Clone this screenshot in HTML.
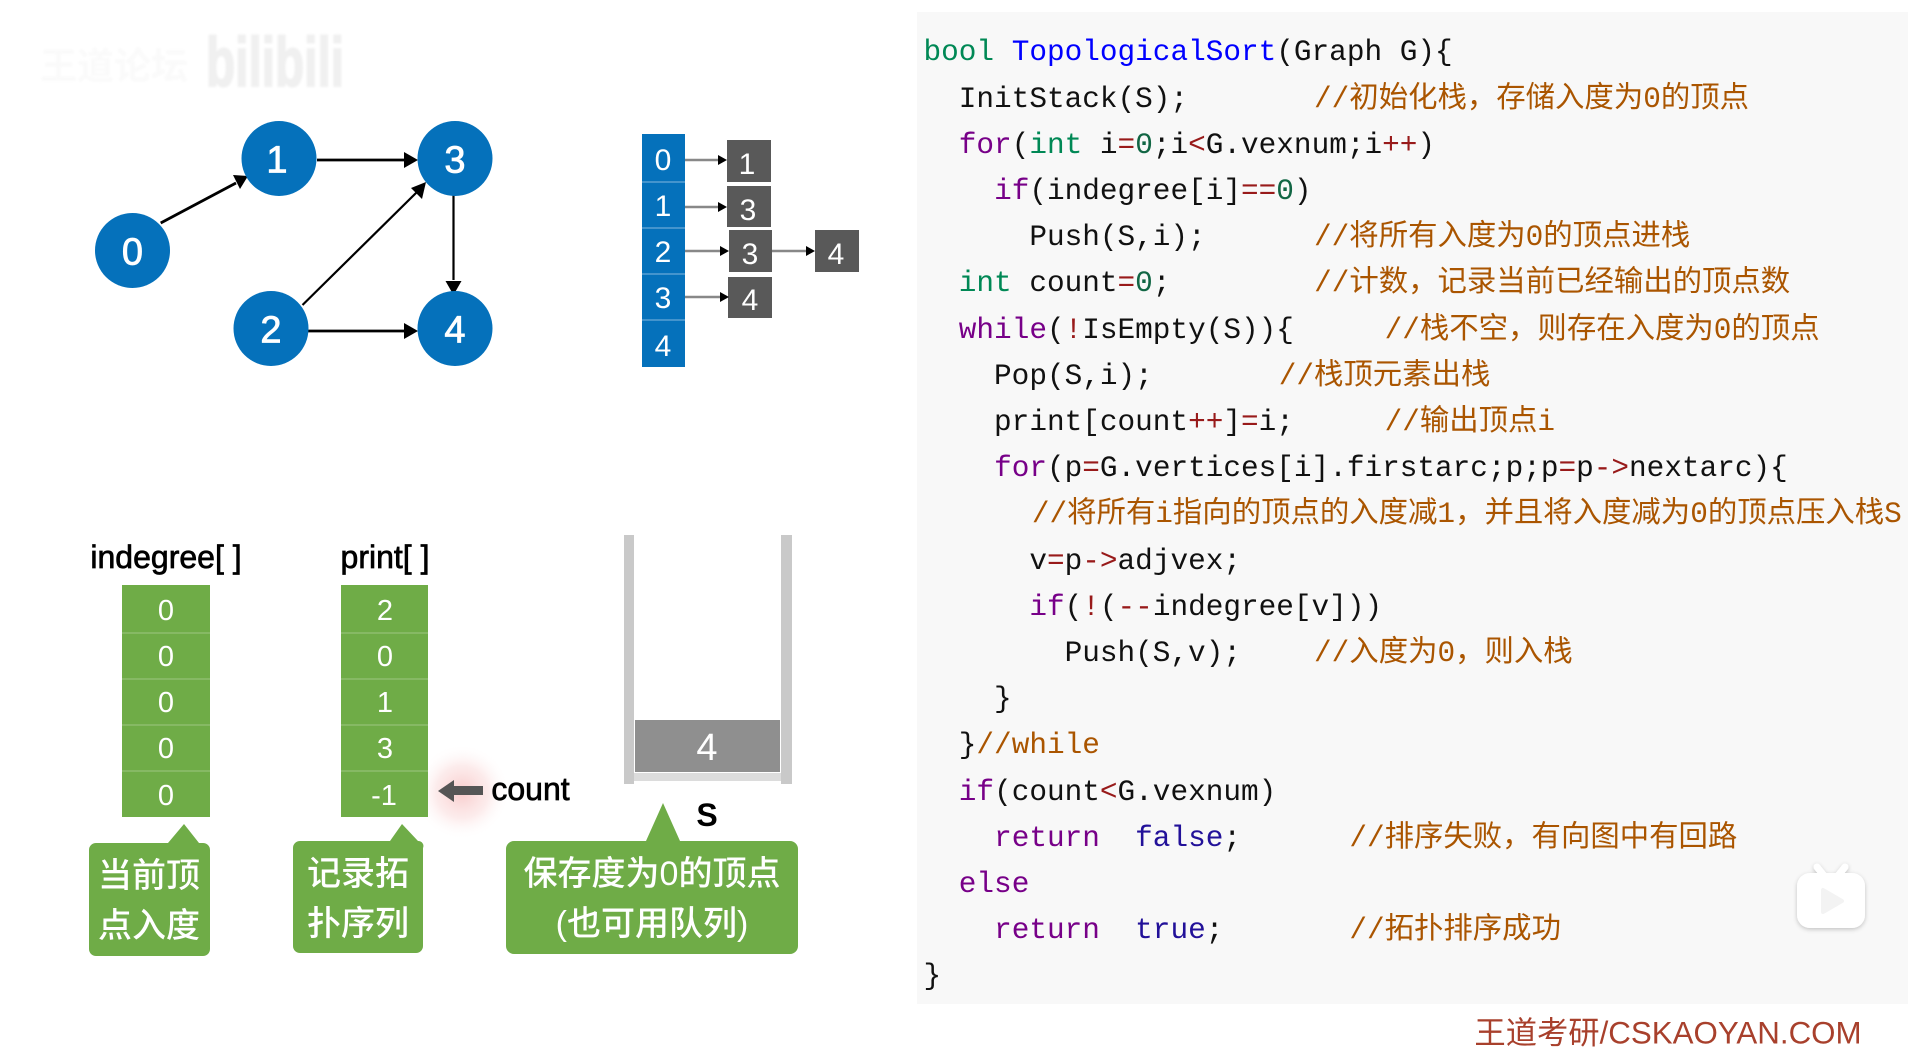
<!DOCTYPE html>
<html lang="zh">
<head>
<meta charset="utf-8">
<title>TopologicalSort</title>
<style>
html,body{margin:0;padding:0;background:#fff}
#page{position:relative;width:1908px;height:1064px;overflow:hidden;background:#fff}
#panel{position:absolute;left:917px;top:12px;width:991px;height:992px;background:#f8f8f8}
#code{position:absolute;left:923.5px;top:30.4px;margin:0;font:29.4px/46.2px "Liberation Mono","Noto Sans CJK SC",monospace;color:#111;white-space:pre}
.k{color:#708}.t{color:#085}.d{color:#00f}.n{color:#164}.o{color:#981a1a}.c{color:#a50}.a{color:#219}
.m{margin-left:2.5px}
svg{position:absolute;left:0;top:0}
svg text{font-family:"Liberation Sans","Noto Sans CJK SC",sans-serif;text-anchor:middle}
.w{fill:#fff}
.cj{font-family:"Liberation Sans","Noto Sans CJK SC",sans-serif;font-size:34px;fill:#fff;font-weight:500}
.lb{font-size:32px;fill:#000;stroke:#000;stroke-width:.7}
</style>
</head>
<body>
<div id="page">
<div id="panel"></div>
<pre id="code"><span class="t">bool</span> <span class="d">TopologicalSort</span>(Graph G){
  InitStack(S);       <span class="c m">//初始化栈，存储入度为0的顶点</span>
  <span class="k">for</span>(<span class="t">int</span> i<span class="o">=</span><span class="n">0</span>;i<span class="o">&lt;</span>G.vexnum;i<span class="o">++</span>)
    <span class="k">if</span>(indegree[i]<span class="o">==</span><span class="n">0</span>)
      Push(S,i);      <span class="c m">//将所有入度为0的顶点进栈</span>
  <span class="t">int</span> count<span class="o">=</span><span class="n">0</span>;        <span class="c m">//计数，记录当前已经输出的顶点数</span>
  <span class="k">while</span>(<span class="o">!</span>IsEmpty(S)){     <span class="c m">//栈不空，则存在入度为0的顶点</span>
    Pop(S,i);       <span class="c m">//栈顶元素出栈</span>
    print[count<span class="o">++</span>]<span class="o">=</span>i;     <span class="c m">//输出顶点i</span>
    <span class="k">for</span>(p<span class="o">=</span>G.vertices[i].firstarc;p;p<span class="o">=</span>p<span class="o">-&gt;</span>nextarc){
      <span class="c m">//将所有i指向的顶点的入度减1，并且将入度减为0的顶点压入栈S</span>
      v<span class="o">=</span>p<span class="o">-&gt;</span>adjvex;
      <span class="k">if</span>(<span class="o">!</span>(<span class="o">--</span>indegree[v]))
        Push(S,v);    <span class="c m">//入度为0，则入栈</span>
    }
  }<span class="c">//while</span>
  <span class="k">if</span>(count<span class="o">&lt;</span>G.vexnum)
    <span class="k">return</span>  <span class="a">false</span>;      <span class="c m">//排序失败，有向图中有回路</span>
  <span class="k">else</span>
    <span class="k">return</span>  <span class="a">true</span>;       <span class="c m">//拓扑排序成功</span>
}</pre>
<svg width="1908" height="1064" viewBox="0 0 1908 1064" xmlns="http://www.w3.org/2000/svg">
<defs>
<radialGradient id="glow"><stop offset="0" stop-color="#f4a9a9" stop-opacity=".6"/><stop offset=".55" stop-color="#f8c8c8" stop-opacity=".35"/><stop offset="1" stop-color="#fff" stop-opacity="0"/></radialGradient>
<filter id="soft"><feGaussianBlur stdDeviation="1"/></filter>
<filter id="sh" x="-20%" y="-20%" width="140%" height="140%"><feDropShadow dx="0" dy="1.5" stdDeviation="2" flood-color="#000" flood-opacity=".22"/></filter>
</defs>

<!-- faint watermark -->
<g filter="url(#soft)">
<text x="114" y="79" font-size="37" fill="#fafafa" style="font-weight:700">王道论坛</text>
<text x="275" y="86" font-size="70" fill="#f0f0f0" stroke="#f0f0f0" stroke-width="2" style="font-weight:700" textLength="138" lengthAdjust="spacingAndGlyphs">bilibili</text>
</g>

<!-- graph -->
<g stroke="#000" fill="none" stroke-width="2.8">
<line x1="160.7" y1="223" x2="236" y2="183"/>
<line x1="317" y1="160" x2="406" y2="160"/>
<line x1="307" y1="331" x2="406" y2="331"/>
<line x1="453.5" y1="195" x2="453.5" y2="280" stroke-width="2.2"/>
<line x1="302.5" y1="305" x2="417" y2="192" stroke-width="2.2"/>
</g>
<g fill="#000">
<polygon points="248,176 233,175 240,189"/>
<polygon points="418,160 404,152 404,168"/>
<polygon points="418,331 404,323 404,339"/>
<polygon points="453.5,295 445.5,281 461.5,281"/>
<polygon points="426,182 411,188 422,199"/>
</g>
<g fill="#0571bb">
<circle cx="279" cy="158.5" r="37.5"/>
<circle cx="455" cy="158.5" r="37.5"/>
<circle cx="132.5" cy="250.5" r="37.5"/>
<circle cx="271" cy="328.5" r="37.5"/>
<circle cx="455" cy="328.5" r="37.5"/>
</g>
<g class="w" font-size="38" stroke="#fff" stroke-width=".8">
<text x="277" y="172.5">1</text>
<text x="455" y="172.5">3</text>
<text x="132.5" y="264.5">0</text>
<text x="271" y="342.5">2</text>
<text x="455" y="342.5">4</text>
</g>

<!-- adjacency list -->
<rect x="642" y="134" width="43" height="233" fill="#0571bb"/>
<g stroke="#5aa0d3" stroke-width="1.5">
<line x1="642" x2="685" y1="182" y2="182"/>
<line x1="642" x2="685" y1="228" y2="228"/>
<line x1="642" x2="685" y1="274" y2="274"/>
<line x1="642" x2="685" y1="320" y2="320"/>
</g>
<g class="w" font-size="30">
<text x="663" y="170">0</text>
<text x="663" y="216">1</text>
<text x="663" y="262">2</text>
<text x="663" y="308">3</text>
<text x="663" y="356">4</text>
</g>
<g fill="#595959">
<rect x="727" y="140" width="44" height="42"/>
<rect x="727" y="186" width="44" height="41"/>
<rect x="729" y="230" width="43" height="42"/>
<rect x="728" y="277" width="44" height="41"/>
<rect x="815" y="230" width="44" height="42"/>
</g>
<g class="w" font-size="30">
<text x="747" y="174">1</text>
<text x="748" y="220">3</text>
<text x="750" y="264">3</text>
<text x="750" y="310">4</text>
<text x="836" y="264">4</text>
</g>
<g stroke="#888" stroke-width="2.4">
<line x1="685" x2="720" y1="160" y2="160"/>
<line x1="685" x2="720" y1="207" y2="207"/>
<line x1="685" x2="722" y1="251" y2="251"/>
<line x1="685" x2="722" y1="297" y2="297"/>
<line x1="772" x2="808" y1="251" y2="251"/>
</g>
<g fill="#000">
<polygon points="727,160 718,155 718,165"/>
<polygon points="727,207 718,202 718,212"/>
<polygon points="729,251 720,246 720,256"/>
<polygon points="729,297 720,292 720,302"/>
<polygon points="815,251 806,246 806,256"/>
</g>

<!-- labels -->
<text class="lb" x="166" y="568">indegree[ ]</text>
<text class="lb" x="385" y="568">print[ ]</text>

<!-- glow -->
<circle cx="462" cy="792" r="48" fill="url(#glow)"/>

<!-- green columns -->
<rect x="122" y="585" width="88" height="232" fill="#6fac47"/>
<rect x="341" y="585" width="87" height="232" fill="#6fac47"/>
<g stroke="#8dbd6e" stroke-width="1.5">
<line x1="122" x2="210" y1="633" y2="633"/>
<line x1="122" x2="210" y1="679" y2="679"/>
<line x1="122" x2="210" y1="725" y2="725"/>
<line x1="122" x2="210" y1="771" y2="771"/>
<line x1="341" x2="428" y1="633" y2="633"/>
<line x1="341" x2="428" y1="679" y2="679"/>
<line x1="341" x2="428" y1="725" y2="725"/>
<line x1="341" x2="428" y1="771" y2="771"/>
</g>
<g class="w" font-size="29">
<text x="166" y="620">0</text>
<text x="166" y="666">0</text>
<text x="166" y="712">0</text>
<text x="166" y="758">0</text>
<text x="166" y="805">0</text>
<text x="385" y="620">2</text>
<text x="385" y="666">0</text>
<text x="385" y="712">1</text>
<text x="385" y="758">3</text>
<text x="384" y="805">-1</text>
</g>

<!-- count arrow -->
<rect x="452" y="786" width="31" height="9" fill="#555"/>
<polygon points="438,791 454,780 454,802" fill="#555"/>
<text class="lb" x="530.5" y="800" style="font-size:32px">count</text>

<!-- stack -->
<rect x="624" y="535" width="10" height="249" fill="#c9c9c9"/>
<rect x="781" y="535" width="11" height="249" fill="#c9c9c9"/>
<rect x="634" y="773" width="147" height="8" fill="#dcdcdc"/>
<rect x="635" y="720" width="145" height="52" fill="#8f8f8f"/>
<text class="w" x="707" y="760" font-size="38">4</text>
<text x="707" y="826" font-size="32" style="font-weight:700" fill="#000">S</text>

<!-- callouts -->
<path d="M96 843H168L184 824L199 843H203a7 7 0 0 1 7 7V949a7 7 0 0 1 -7 7H96a7 7 0 0 1 -7 -7V850a7 7 0 0 1 7 -7Z" fill="#6fac47"/>
<path d="M300 841H390L402 824L418 841a5 5 0 0 1 5 7V946a7 7 0 0 1 -7 7H300a7 7 0 0 1 -7 -7V848a7 7 0 0 1 7 -7Z" fill="#6fac47"/>
<path d="M514 841H646L663 803L680 841H790a8 8 0 0 1 8 8V946a8 8 0 0 1 -8 8H514a8 8 0 0 1 -8 -8V849a8 8 0 0 1 8 -8Z" fill="#6fac47"/>
<text class="cj" x="149" y="887">当前顶</text>
<text class="cj" x="149" y="937">点入度</text>
<text class="cj" x="358" y="885">记录拓</text>
<text class="cj" x="358" y="935">扑序列</text>
<text class="cj" x="652" y="885">保存度为0的顶点</text>
<text class="cj" x="652" y="935">(也可用队列)</text>

<!-- play badge -->
<g filter="url(#sh)">
<path d="M1817 867L1825 877M1845 867L1837 877" stroke="#fff" stroke-width="7" stroke-linecap="round"/>
<rect x="1797" y="873" width="68" height="55" rx="13" fill="#fff"/>
</g>
<polygon points="1823,890 1823,912 1842,901" fill="#f3f3f3" stroke="#f3f3f3" stroke-width="4" stroke-linejoin="round"/>

<!-- footer -->
<text x="1668" y="1043.5" font-size="31.3" fill="#a8402c">王道考研/CSKAOYAN.COM</text>
</svg>
</div>
</body>
</html>
